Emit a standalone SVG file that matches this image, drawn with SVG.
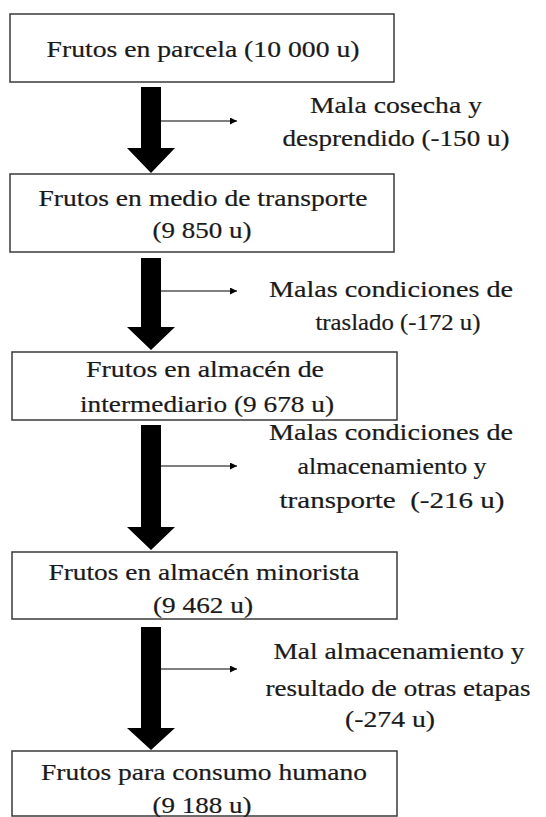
<svg xmlns="http://www.w3.org/2000/svg" width="546" height="817" viewBox="0 0 546 817">
<defs>
<style>
.box{fill:#fff;stroke:#3a3a3a;stroke-width:1.5}
.t{font-family:'Liberation Serif','Times New Roman','DejaVu Serif',serif;font-size:23px;fill:#1a1a1a;stroke:#1a1a1a;stroke-width:0.2;text-anchor:middle}
.big{fill:#000}
.thin{stroke:#000;stroke-width:1.2;fill:none}
</style>
<marker id="ah" viewBox="0 0 10 10" refX="10" refY="5" markerWidth="8" markerHeight="7" markerUnits="userSpaceOnUse" orient="auto"><path d="M0,0 L10,5 L0,10 z" fill="#000"/></marker>
</defs>
<rect width="546" height="817" fill="#fff"/>
<g id="n1"><rect class="box" x="10" y="14" width="384" height="68"/></g>
<g id="n2"><rect class="box" x="10" y="174" width="384" height="78"/></g>
<g id="n3"><rect class="box" x="12" y="352" width="385" height="68"/></g>
<g id="n4"><rect class="box" x="12" y="552" width="385" height="67"/></g>
<g id="n5"><rect class="box" x="12" y="751" width="385" height="65"/></g>
<g class="t" transform="scale(1.2,1)">
<g id="n1-label"><text x="169.17" y="57" textLength="260.8" lengthAdjust="spacingAndGlyphs">Frutos en parcela (10 000 u)</text></g>
<g id="n2-label"><text x="169.17" y="206" textLength="274.2" lengthAdjust="spacingAndGlyphs">Frutos en medio de transporte</text>
<text x="168.33" y="238" textLength="82.5" lengthAdjust="spacingAndGlyphs">(9 850 u)</text></g>
<g id="n3-label"><text x="170.83" y="377" textLength="198.3" lengthAdjust="spacingAndGlyphs">Frutos en almacén de</text>
<text x="172.5" y="412" textLength="211.7" lengthAdjust="spacingAndGlyphs">intermediario (9 678 u)</text></g>
<g id="n4-label"><text x="170" y="580" textLength="259.2" lengthAdjust="spacingAndGlyphs">Frutos en almacén minorista</text>
<text x="169.17" y="613" textLength="83.3" lengthAdjust="spacingAndGlyphs">(9 462 u)</text></g>
<g id="n5-label"><text x="170" y="780" textLength="271.7" lengthAdjust="spacingAndGlyphs">Frutos para consumo humano</text>
<text x="168.33" y="813" textLength="82.5" lengthAdjust="spacingAndGlyphs">(9 188 u)</text></g>
<g id="l1"><text x="330" y="113" textLength="143.3" lengthAdjust="spacingAndGlyphs">Mala cosecha y</text>
<text x="330" y="146" textLength="189.2" lengthAdjust="spacingAndGlyphs">desprendido (-150 u)</text></g>
<g id="l2"><text x="325.83" y="297" textLength="203.3" lengthAdjust="spacingAndGlyphs">Malas condiciones de</text>
<text x="331.67" y="330" textLength="137.5" lengthAdjust="spacingAndGlyphs">traslado (-172 u)</text></g>
<g id="l3"><text x="325.83" y="440" textLength="203.3" lengthAdjust="spacingAndGlyphs">Malas condiciones de</text>
<text x="326.67" y="474" textLength="157.5" lengthAdjust="spacingAndGlyphs">almacenamiento y</text>
<text x="326.67" y="508" textLength="187.5" lengthAdjust="spacingAndGlyphs" xml:space="preserve">transporte  (-216 u)</text></g>
<g id="l4"><text x="332.5" y="659" textLength="209.2" lengthAdjust="spacingAndGlyphs">Mal almacenamiento y</text>
<text x="331.67" y="696" textLength="220.8" lengthAdjust="spacingAndGlyphs">resultado de otras etapas</text>
<text x="325" y="727" textLength="75" lengthAdjust="spacingAndGlyphs">(-274 u)</text></g>
</g>
<g id="connectors">
<polygon class="big" points="141,87 161,87 161,148 175,148 151,173 127,148 141,148"/>
<line class="thin" x1="161" y1="121" x2="237" y2="121" marker-end="url(#ah)"/>
<polygon class="big" points="141,258 161,258 161,327 175,327 151,350 127,327 141,327"/>
<line class="thin" x1="161" y1="291" x2="237" y2="291" marker-end="url(#ah)"/>
<polygon class="big" points="141,425 161,425 161,527 175,527 151,550 127,527 141,527"/>
<line class="thin" x1="161" y1="466" x2="237" y2="466" marker-end="url(#ah)"/>
<polygon class="big" points="141,627 161,627 161,728 175,728 151,750 127,728 141,728"/>
<line class="thin" x1="161" y1="669" x2="237" y2="669" marker-end="url(#ah)"/>
</g>
</svg>
